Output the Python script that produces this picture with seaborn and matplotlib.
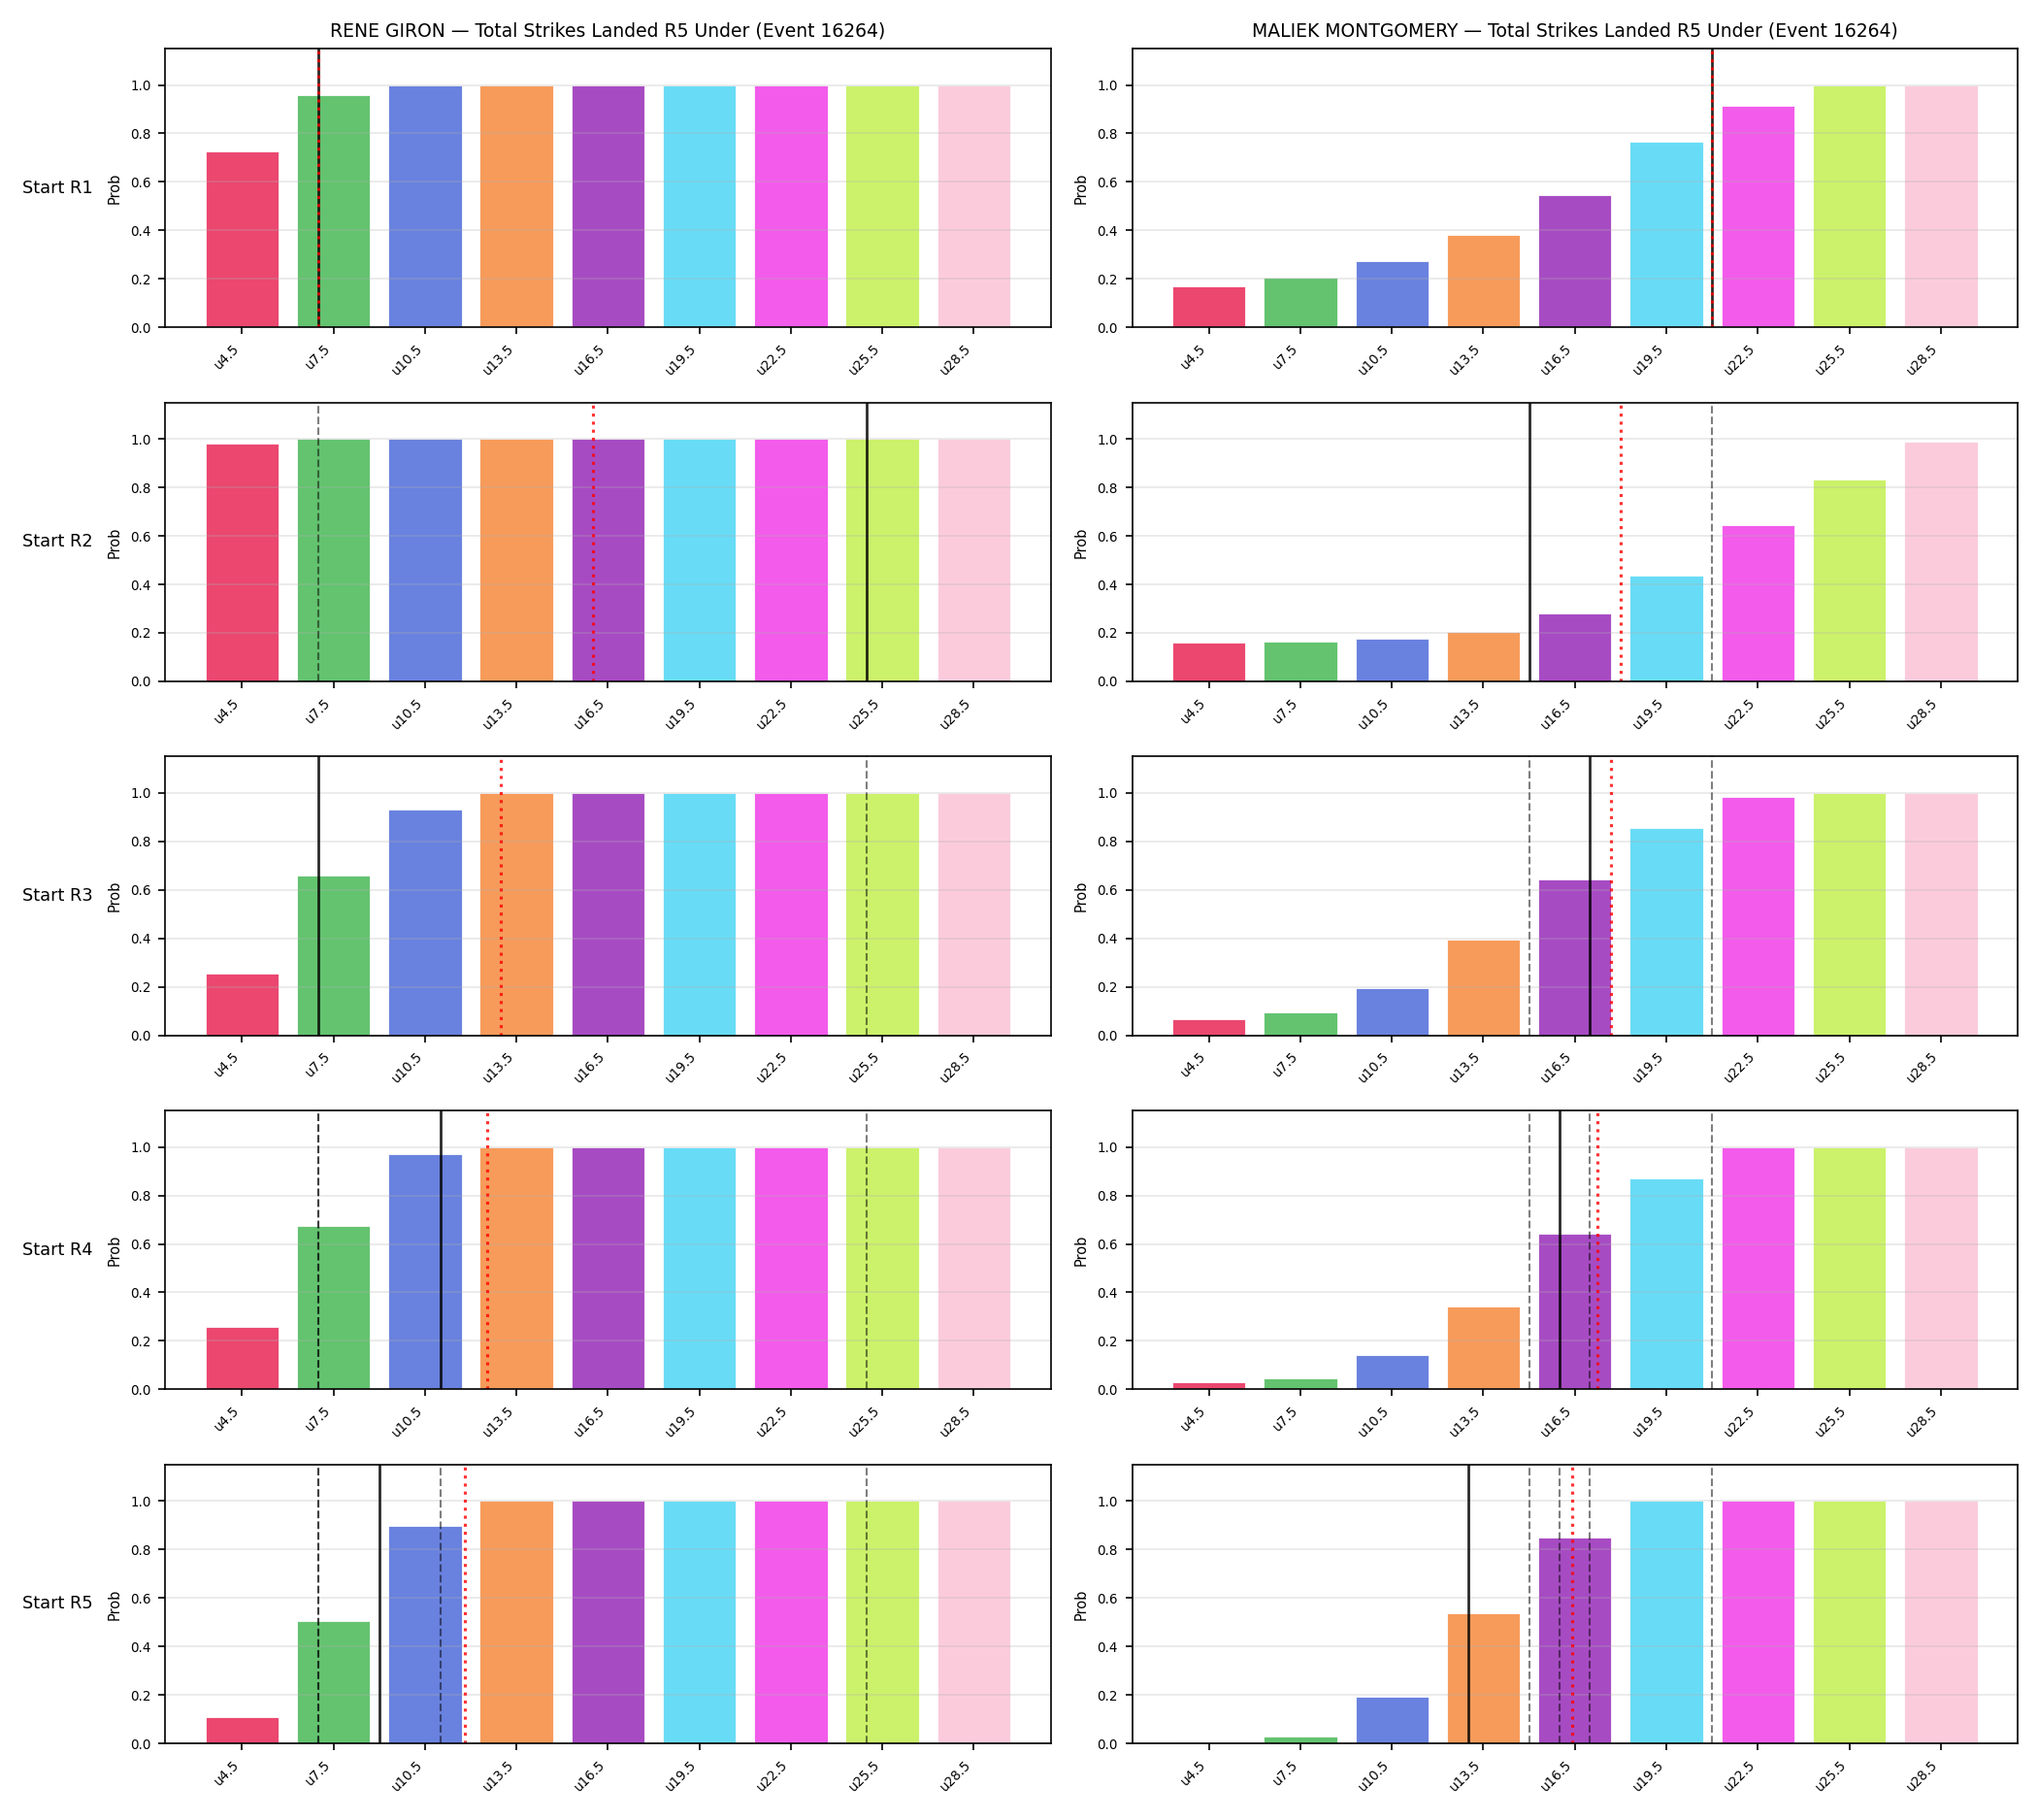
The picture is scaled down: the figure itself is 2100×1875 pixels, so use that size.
import matplotlib
matplotlib.use("Agg")
import matplotlib.pyplot as plt
import numpy as np
import pandas as pd
import seaborn as sns

fighters = ["RENE GIRON", "MALIEK MONTGOMERY"]
event_id = 16264
rounds = ["Start R1", "Start R2", "Start R3", "Start R4", "Start R5"]
lines_labels = ["u4.5", "u7.5", "u10.5", "u13.5", "u16.5", "u19.5", "u22.5", "u25.5", "u28.5"]
line_values = [4.5, 7.5, 10.5, 13.5, 16.5, 19.5, 22.5, 25.5, 28.5]
colors = ["#e6194b", "#3cb44b", "#4363d8", "#f58231", "#911eb4",
          "#42d4f4", "#f032e6", "#bfef45", "#fabed4"]

# P(under) per line, one row per starting round
giron_probs = [
    [0.726, 0.960, 1.0, 1.0, 1.0, 1.0, 1.0, 1.0, 1.0],
    [0.979, 1.0, 1.0, 1.0, 1.0, 1.0, 1.0, 1.0, 1.0],
    [0.253, 0.660, 0.933, 1.0, 1.0, 1.0, 1.0, 1.0, 1.0],
    [0.259, 0.676, 0.969, 1.0, 1.0, 1.0, 1.0, 1.0, 1.0],
    [0.107, 0.504, 0.897, 1.0, 1.0, 1.0, 1.0, 1.0, 1.0],
]
montgomery_probs = [
    [0.168, 0.205, 0.273, 0.380, 0.545, 0.765, 0.913, 1.0, 1.0],
    [0.159, 0.163, 0.175, 0.203, 0.281, 0.436, 0.644, 0.833, 0.989],
    [0.067, 0.096, 0.195, 0.397, 0.644, 0.857, 0.985, 1.0, 1.0],
    [0.028, 0.047, 0.140, 0.340, 0.644, 0.869, 1.0, 1.0, 1.0],
    [0.003, 0.027, 0.191, 0.536, 0.849, 1.0, 1.0, 1.0, 1.0],
]

# markers in strike units: current count (solid), projection (dotted), reference lines (dashed)
giron_current = [7, 25, 7, 11, 9]
giron_proj = [7, 16, 13, 12.53, 11.82]
giron_refs = [[], [7], [25], [7, 7, 25], [7, 7, 11, 25]]
montgomery_current = [21, 15, 17, 16, 13]
montgomery_proj = [21, 18, 17.67, 17.25, 16.42]
montgomery_refs = [[], [21], [15, 21], [15, 17, 21], [15, 16, 17, 21]]


def to_pos(v):
    # strike value -> position on the categorical line axis
    return np.interp(v, line_values, np.arange(len(line_values)))


def panel(ax, probs, cur, proj, refs):
    df = pd.DataFrame({"line": lines_labels, "prob": probs})
    sns.barplot(data=df, x="line", y="prob", hue="line", palette=colors,
                saturation=1, alpha=0.8, legend=False, ax=ax,
                edgecolor="white", linewidth=0.5, width=0.8)
    for r in refs:
        ax.axvline(to_pos(r), color="k", ls="--", lw=1.0, alpha=0.5)
    ax.axvline(to_pos(cur), color="k", lw=1.3, alpha=0.85)
    ax.axvline(to_pos(proj), color="red", ls=":", lw=1.5, alpha=0.8)
    ax.set_xlim(-0.84, 8.84)
    ax.set_ylim(0, 1.15)
    ax.set_yticks([0, 0.2, 0.4, 0.6, 0.8, 1.0])
    ax.grid(axis="y", alpha=0.3)
    ax.set_xlabel("")
    ax.set_ylabel("Prob", fontsize=7)
    ax.tick_params(labelsize=6.5)
    plt.setp(ax.get_xticklabels(), rotation=45, ha="right")


plt.rcParams["font.family"] = ["DejaVu Sans"]
fig, axes = plt.subplots(5, 2, figsize=(14, 12.5), dpi=150)
fig.subplots_adjust(left=0.081, right=0.99, top=0.9733, bottom=0.0421,
                    wspace=0.092, hspace=0.27)

data = [
    (giron_probs, giron_current, giron_proj, giron_refs),
    (montgomery_probs, montgomery_current, montgomery_proj, montgomery_refs),
]
for c, (probs, cur, proj, refs) in enumerate(data):
    for r in range(len(rounds)):
        ax = axes[r, c]
        panel(ax, probs[r], cur[r], proj[r], refs[r])
        if r == 0:
            ax.set_title(f"{fighters[c]} — Total Strikes Landed R5 Under (Event {event_id})",
                         fontsize=9)

for r, lab in enumerate(rounds):
    pos = axes[r, 0].get_position()
    fig.text(0.011, (pos.y0 + pos.y1) / 2, lab, ha="left", va="center", fontsize=8.5)

fig.savefig("out.png", dpi=150)
